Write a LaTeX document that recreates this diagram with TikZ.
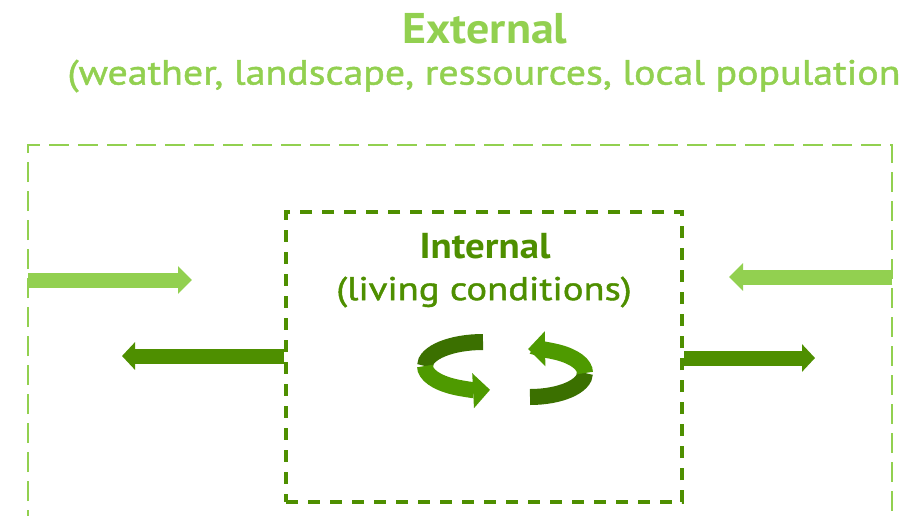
\documentclass[tikz,border=0pt]{standalone}
\usepackage{fontspec}
\setmainfont{PT Sans}
\newfontfamily\medfont{PT Sans}[FakeBold=1.2]
\usetikzlibrary{arrows.meta}
\definecolor{light}{HTML}{92D050}
\definecolor{dark}{HTML}{4E8F00}
\definecolor{darker}{HTML}{3B7000}
\definecolor{mid}{HTML}{4E9A00}
\tikzset{
  outerbox/.style={draw=light, line width=2.5pt, dash pattern=on 20pt off 9pt},
  innerbox/.style={draw=dark, line width=4pt, dash pattern=on 12pt off 10pt},
  flowlight/.style={draw=light, line width=15pt, -{Triangle[width=27pt,length=14pt]}},
  flowdark/.style={draw=dark, line width=15pt, -{Triangle[width=27pt,length=13pt]}},
  lbl/.style={inner sep=0pt, anchor=center},
  cyc/.style={line width=16pt},
}
\begin{document}
\begin{tikzpicture}[x=1pt,y=-1pt]
\clip (0,0) rectangle (913,515);
\useasboundingbox (0,0) rectangle (913,515);
% titles
\node[lbl, text=light, font=\bfseries\fontsize{43}{46}\selectfont] (ext) at (485,29) {\scalebox{1.07}[1]{External}};
\node[lbl, text=light, font=\medfont\fontsize{35}{40}\selectfont] (extsub) at (484,76) {\scalebox{1.14}[1]{(weather, landscape, ressources, local population}};
% outer box
\draw[outerbox] (28,530) -- (28,145) -- (892,145) -- (892,530);
\coordinate (oleft) at (28,280);
\coordinate (oright) at (892,277);
\coordinate (lrtip) at (192,280);
\coordinate (rltip) at (729,277);
% inner box
\node[innerbox, minimum width=396pt, minimum height=290pt, inner sep=0pt] (inner) at (484,357) {};
\node[lbl, text=dark, font=\bfseries\fontsize{36}{40}\selectfont] (int) at (485,246) {\scalebox{1.08}[1]{Internal}};
\node[lbl, text=dark, font=\medfont\fontsize{33}{36}\selectfont] (intsub) at (484,292) {\scalebox{1.17}[1]{(living conditions)}};
\coordinate (iltip) at (122,356);
\coordinate (irtip) at (815,358);
% arrows
\draw[flowlight] (oleft) -- (lrtip);
\draw[flowlight] (oright) -- (rltip);
\draw[flowdark] (inner.west |- iltip) -- (iltip);
\draw[flowdark] (inner.east |- irtip) -- (irtip);
% cycle arrows
\coordinate (c1) at (483,366);
\coordinate (c2) at (530,373);
\draw[cyc, darker] ([shift={(0,-24)}]c1) arc[start angle=90, end angle=180, x radius=58pt, y radius=24pt];
\draw[cyc, mid, -{Triangle[width=34pt,length=17pt]}] ([shift={(-58,0)}]c1) arc[start angle=180, end angle=277, x radius=58pt, y radius=24pt];
\draw[cyc, darker] ([shift={(0,24)}]c2) arc[start angle=270, end angle=360, x radius=55pt, y radius=24pt];
\draw[cyc, mid, -{Triangle[width=34pt,length=17pt]}] ([shift={(55,0)}]c2) arc[start angle=0, end angle=92, x radius=55pt, y radius=24pt];
\end{tikzpicture}
\end{document}
